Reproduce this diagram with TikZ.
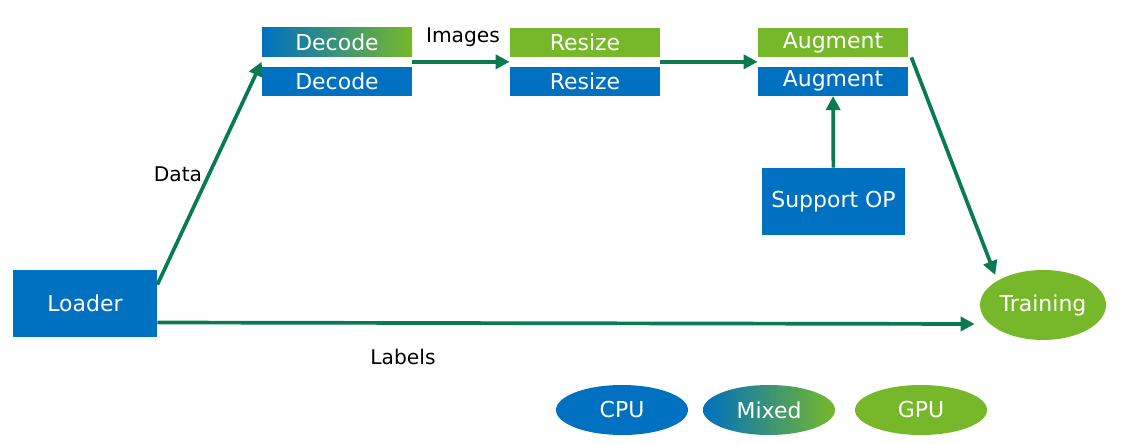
\documentclass[tikz,border=0pt]{standalone}
\usepackage{fontspec}
\setmainfont{DejaVu Sans}
\usetikzlibrary{positioning,arrows.meta,shapes.geometric,calc}
\definecolor{cpublue}{HTML}{0070C0}
\definecolor{gpugreen}{HTML}{76B82A}
\definecolor{flowgreen}{HTML}{0A7A50}

\begin{document}
\begin{tikzpicture}[
    font=\fontsize{12.5}{14}\selectfont,
    node distance=0.18cm,
    opbox/.style={rectangle, text=white, minimum width=3cm, minimum height=0.58cm, inner sep=0pt},
    cpubox/.style={opbox, fill=cpublue},
    gpubox/.style={opbox, fill=gpugreen},
    mixbox/.style={opbox, left color=cpublue, right color=gpugreen},
    bigbox/.style={rectangle, fill=cpublue, text=white, minimum height=1.34cm, inner sep=0pt},
    devnode/.style={ellipse, text=white, minimum width=2.64cm, minimum height=1cm, inner sep=0pt},
    arrow/.style={-{Triangle[length=8pt,width=8pt]}, line width=2.1pt, draw=flowgreen},
    labelnode/.style={text=black, font=\fontsize{11.5}{13}\selectfont}
  ]
    \useasboundingbox (0,0) rectangle (22.64,8.86);

    % Pipeline stages
    \node[mixbox] (decA) at (6.74,8.01) {Decode};
    \node[cpubox, below=of decA] (decB) {Decode};
    \node[gpubox] (resA) at (11.7,8.01) {Resize};
    \node[cpubox, below=of resA] (resB) {Resize};
    \node[gpubox] (augA) at (16.66,8.01) {Augment};
    \node[cpubox, below=of augA] (augB) {Augment};
    \node[bigbox, minimum width=2.86cm] (support) at (16.67,4.83) {Support OP};

    % Ends
    \node[bigbox, minimum width=2.88cm] (loader) at (1.7,2.79) {Loader};
    \node[devnode, fill=gpugreen, minimum width=2.52cm, minimum height=1.4cm] (training) at (20.86,2.76) {Training};

    % Legend
    \node[devnode, fill=cpublue] (cpu) at (12.44,0.66) {CPU};
    \node[devnode, left color=cpublue, right color=gpugreen] (mixed) at (15.38,0.66) {Mixed};
    \node[devnode, fill=gpugreen] (gpu) at (18.42,0.66) {GPU};

    % Labels
    \node[labelnode] (lblImages) at (9.26,8.12) {Images};
    \node[labelnode] (lblData) at (3.56,5.38) {Data};
    \node[labelnode] (lblLabels) at (8.06,1.72) {Labels};

    % Connections
    \coordinate (decIn) at ($(decA.south west)!.5!(decB.north west)$);
    \draw[arrow] ([yshift=-0.3cm]loader.north east) -- (decIn);
    \draw[arrow] ($(decA.south east)!.5!(decB.north east)$) -- ($(resA.south west)!.5!(resB.north west)$);
    \draw[arrow] ($(resA.south east)!.5!(resB.north east)$) -- ($(augA.south west)!.5!(augB.north west)$);
    \draw[arrow] ([xshift=0.06cm]augA.south east) -- ([xshift=-0.06cm,yshift=0.1cm]training.north west);
    \draw[arrow] (support) -- (augB);
    \draw[arrow] ([yshift=-0.38cm]loader.east) -- ([xshift=-0.1cm,yshift=-0.38cm]training.west);
  \end{tikzpicture}
\end{document}
